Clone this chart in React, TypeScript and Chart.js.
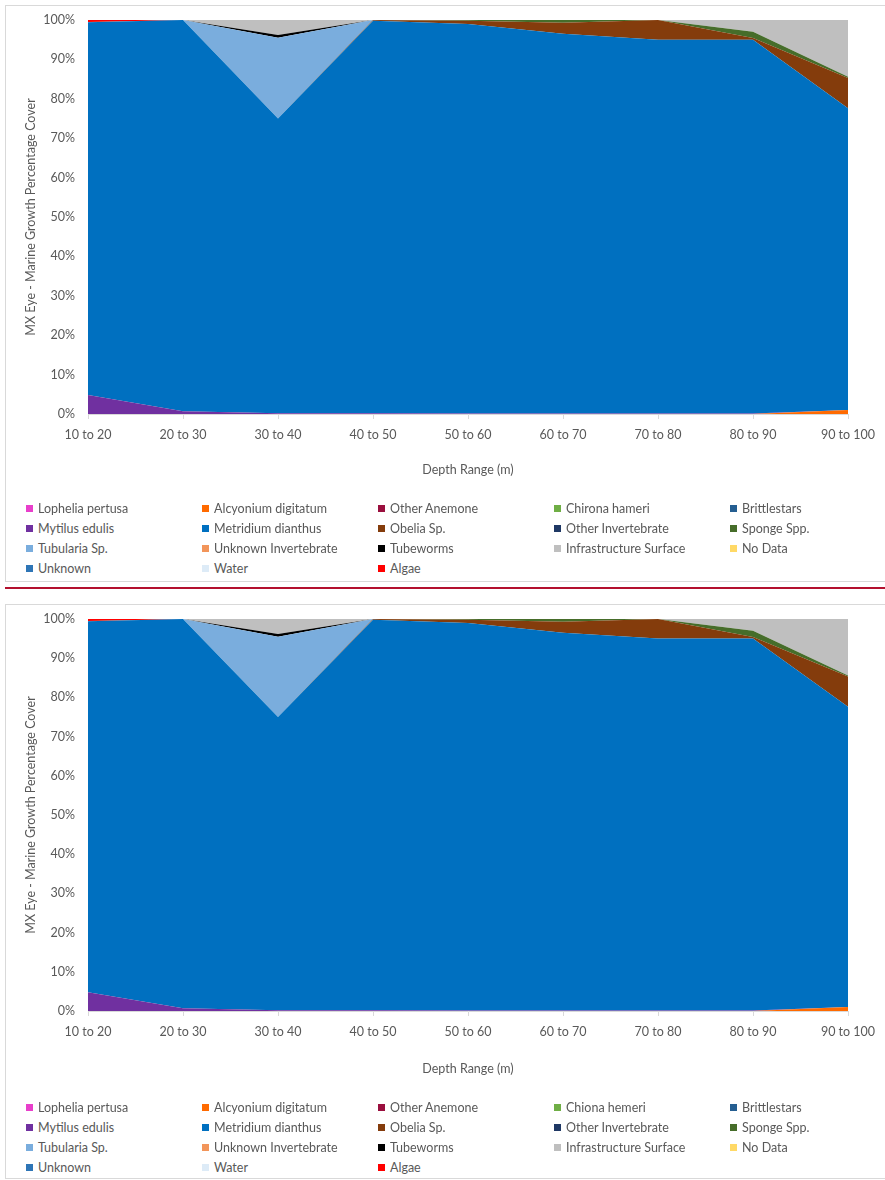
import React, { useEffect, useRef } from "react";
import { Chart, registerables } from "chart.js";

Chart.register(...registerables);

const categories = ["10 to 20", "20 to 30", "30 to 40", "40 to 50", "50 to 60", "60 to 70", "70 to 80", "80 to 90", "90 to 100"];
const yTicks = [0, 10, 20, 30, 40, 50, 60, 70, 80, 90, 100];

const lopheliaPertusa = [0, 0, 0, 0, 0, 0, 0, 0, 0];
const alcyoniumDigitatum = [0, 0, 0, 0, 0, 0, 0, 0, 1.0];
const otherAnemone = [0, 0, 0, 0, 0, 0, 0, 0, 0];
const chironaHameri = [0, 0, 0, 0, 0, 0, 0, 0, 0];
const brittlestars = [0, 0, 0, 0, 0, 0, 0, 0, 0];
const mytilusEdulis = [4.8, 0.7, 0.2, 0.2, 0.1, 0.1, 0.1, 0.1, 0];
const metridiumDianthus = [94.6, 99.3, 74.8, 99.6, 98.9, 96.4, 94.9, 94.9, 76.6];
const obeliaSp = [0.1, 0, 0, 0.2, 0.8, 2.8, 5.0, 0.4, 7.7];
const otherInvertebrate = [0, 0, 0, 0, 0, 0, 0, 0, 0];
const spongeSpp = [0, 0, 0, 0, 0.2, 0.7, 0, 1.6, 0.3];
const tubulariaSp = [0, 0, 20.5, 0, 0, 0, 0, 0, 0];
const unknownInvertebrate = [0, 0, 0, 0, 0, 0, 0, 0, 0];
const tubeworms = [0, 0, 0.7, 0, 0, 0, 0, 0, 0];
const infrastructureSurface = [0, 0, 3.8, 0, 0, 0, 0, 3.0, 14.4];
const noData = [0, 0, 0, 0, 0, 0, 0, 0, 0];
const unknown = [0, 0, 0, 0, 0, 0, 0, 0, 0];
const water = [0, 0, 0, 0, 0, 0, 0, 0, 0];
const algae = [0.5, 0, 0, 0, 0, 0, 0, 0, 0];

const seriesNamesTop = ["Lophelia pertusa", "Alcyonium digitatum", "Other Anemone", "Chirona hameri", "Brittlestars", "Mytilus edulis", "Metridium dianthus", "Obelia Sp.", "Other Invertebrate", "Sponge Spp.", "Tubularia Sp.", "Unknown Invertebrate", "Tubeworms", "Infrastructure Surface", "No Data", "Unknown", "Water", "Algae"];
const seriesNamesBottom = ["Lophelia pertusa", "Alcyonium digitatum", "Other Anemone", "Chiona hemeri", "Brittlestars", "Mytilus edulis", "Metridium dianthus", "Obelia Sp.", "Other Invertebrate", "Sponge Spp.", "Tubularia Sp.", "Unknown Invertebrate", "Tubeworms", "Infrastructure Surface", "No Data", "Unknown", "Water", "Algae"];
const seriesColors = ["#E83FCB", "#FF6A00", "#9A0F3E", "#6FAE45", "#255E91", "#7030A0", "#0070C0", "#843C0C", "#1F3864", "#466D2A", "#7AADDD", "#F2955A", "#000000", "#BFBFBF", "#FFD966", "#2E75B6", "#DDEBF7", "#FF0000"];
const seriesValues = [lopheliaPertusa, alcyoniumDigitatum, otherAnemone, chironaHameri, brittlestars, mytilusEdulis, metridiumDianthus, obeliaSp, otherInvertebrate, spongeSpp, tubulariaSp, unknownInvertebrate, tubeworms, infrastructureSurface, noData, unknown, water, algae];

const FONT = "Lato, 'Liberation Sans', sans-serif";
const TEXT = "#595959";

function Panel({ boxTop, plotTop, plotBottom, names }: { boxTop: number; plotTop: number; plotBottom: number; names: string[] }) {
  const ref = useRef<HTMLCanvasElement | null>(null);
  const H = 500;
  useEffect(() => {
    if (!ref.current) return;
    const chart = new Chart(ref.current, {
      type: "line",
      data: {
        labels: categories,
        datasets: seriesValues.map((vals, i) => ({
          label: names[i],
          data: vals,
          backgroundColor: seriesColors[i],
          borderColor: seriesColors[i],
          borderWidth: 0,
          pointRadius: 0,
          tension: 0,
          fill: i === 0 ? "origin" : "-1",
        })),
      },
      options: {
        animation: false,
        responsive: true,
        maintainAspectRatio: false,
        layout: { padding: { top: plotTop, right: 37, left: 0, bottom: 0 } },
        plugins: { legend: { display: false }, tooltip: { enabled: false } },
        scales: {
          x: {
            type: "category",
            offset: false,
            grid: { display: true, drawOnChartArea: false, drawTicks: true, tickLength: 5, color: "#D9D9D9" },
            border: { display: true, color: "#D9D9D9" },
            ticks: { color: TEXT, font: { family: FONT, size: 12.5 }, padding: 8, maxRotation: 0, autoSkip: false },
            title: { display: true, text: "Depth Range (m)", color: TEXT, font: { family: FONT, size: 12.5 }, padding: { top: 0, bottom: 28 } },
            afterFit: (s: any) => { s.height = H - plotBottom; s.paddingLeft = 0; s.paddingRight = 0; },
          },
          y: {
            stacked: true,
            min: 0,
            max: 100,
            grid: { display: false, drawTicks: false },
            border: { display: false },
            afterBuildTicks: (s: any) => { s.ticks = yTicks.map((v) => ({ value: v })); },
            ticks: { color: TEXT, font: { family: FONT, size: 12.5 }, padding: 13, callback: (v: any) => v + "%" },
            title: { display: true, text: "MX Eye - Marine Growth Percentage Cover", color: TEXT, font: { family: FONT, size: 12.5 }, padding: { top: 23, bottom: 0 } },
            afterFit: (s: any) => { s.width = 88; s.paddingTop = 0; s.paddingBottom = 0; },
          },
        },
      },
    });
    return () => chart.destroy();
  }, []);

  const legendTop = boxTop + 503;
  return (
    <>
      <div style={{ position: "absolute", left: 5, top: boxTop, width: 900, height: (boxTop === 5 ? 577 : 575), border: "1px solid #D9D9D9", boxSizing: "border-box" }} />
      <div style={{ position: "absolute", left: 0, top: boxTop, width: 885, height: H }}>
        <canvas ref={ref} />
      </div>
      {names.map((n, i) => {
        const r = Math.floor(i / 5);
        const c = i % 5;
        const cy = legendTop + r * 20;
        const x = 26 + c * 176;
        return (
          <div key={n} style={{ position: "absolute", left: x, top: cy - 9, height: 18, display: "flex", alignItems: "center", whiteSpace: "nowrap" }}>
            <span style={{ display: "inline-block", width: 7, height: 7, background: seriesColors[i], marginRight: 5 }} />
            <span style={{ fontFamily: FONT, fontSize: 12.5, color: TEXT }}>{n}</span>
          </div>
        );
      })}
    </>
  );
}

export default function App() {
  return (
    <div style={{ position: "absolute", left: 0, top: 0, width: 885, height: 1180, overflow: "hidden", background: "#fff" }}>
      <Panel boxTop={5} plotTop={15} plotBottom={409} names={seriesNamesTop} />
      <div style={{ position: "absolute", left: 5, top: 587, width: 890, height: 2, background: "#B3102E" }} />
      <Panel boxTop={604} plotTop={15} plotBottom={407} names={seriesNamesBottom} />
    </div>
  );
}
